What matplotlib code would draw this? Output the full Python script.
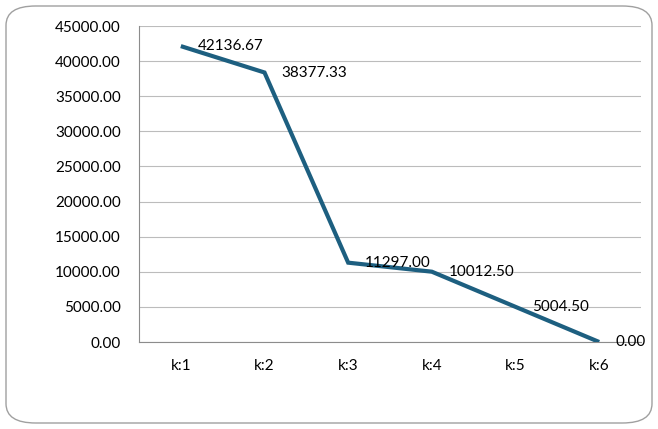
import matplotlib.pyplot as plt
from matplotlib.patches import FancyBboxPatch

categories = ["k:1", "k:2", "k:3", "k:4", "k:5", "k:6"]
values = [42136.67, 38377.33, 11297.00, 10012.50, 5004.50, 0.00]
y_ticks = [0, 5000, 10000, 15000, 20000, 25000, 30000, 35000, 40000, 45000]

plt.rcParams['font.family'] = ['Lato', 'DejaVu Sans']
plt.rcParams['font.size'] = 11

fig = plt.figure(figsize=(6.58, 4.29), dpi=100)
ax = fig.add_axes([139 / 658, 1 - 342 / 429, 502 / 658, 316 / 429])

# rounded chart border
border = FancyBboxPatch((6 / 658, 6 / 429), 646 / 658, 417 / 429,
                        boxstyle="round,pad=0,rounding_size=0.045",
                        transform=fig.transFigure, facecolor='white',
                        edgecolor='#a0a0a0', linewidth=1.0, zorder=-10)
fig.patches.append(border)

x = list(range(len(categories)))
ax.plot(x, values, color='#1d5f80', linewidth=3.0, solid_capstyle='butt',
        solid_joinstyle='miter', zorder=3)

for xi, v in zip(x, values):
    ax.annotate(f"{v:.2f}", (xi, v), xytext=(12, 0), textcoords='offset points',
                ha='left', va='center', color='black', zorder=4)

ax.set_xlim(-0.5, len(categories) - 0.5)
ax.set_ylim(0, 45000)
ax.set_yticks(y_ticks)
ax.set_yticklabels([f"{t:.2f}" for t in y_ticks])
ax.set_xticks(x)
ax.set_xticklabels(categories)

ax.grid(axis='y', color='#bcbcbc', linewidth=0.8)
ax.set_axisbelow(True)
for side in ['top', 'right']:
    ax.spines[side].set_visible(False)
ax.spines['left'].set_color('#8c8c8c')
ax.spines['bottom'].set_color('#8c8c8c')
ax.tick_params(axis='both', length=0, colors='black')
ax.tick_params(axis='y', pad=13)
ax.tick_params(axis='x', pad=12)
ax.patch.set_alpha(0)

fig.savefig("out.png", dpi=100)
